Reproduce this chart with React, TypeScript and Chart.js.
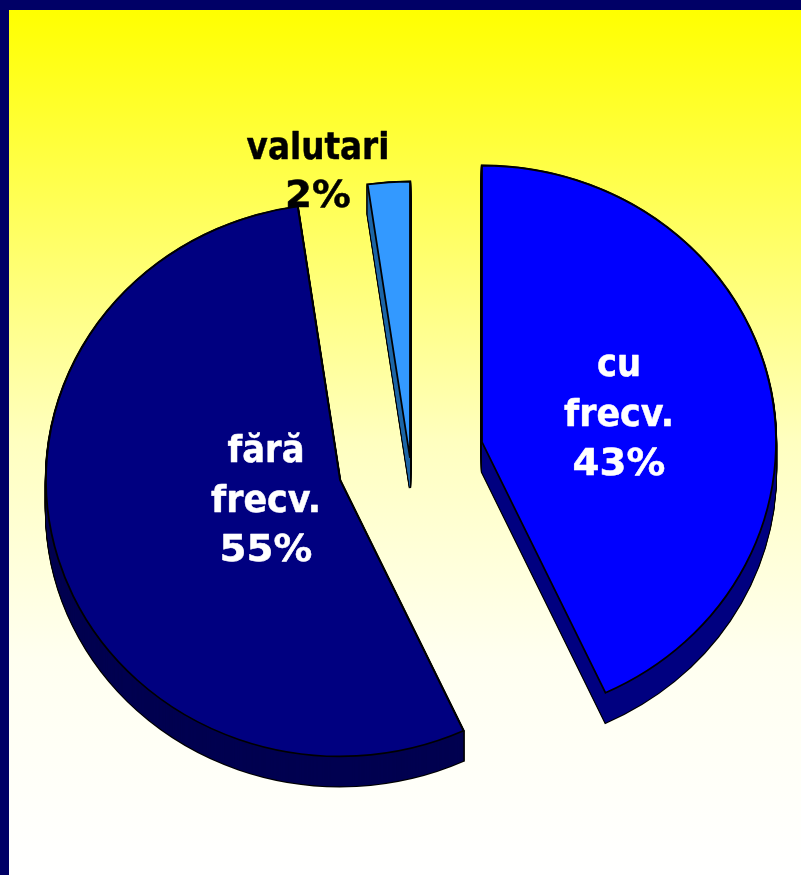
import React, { useEffect, useRef } from "react";
import { Chart, registerables } from "chart.js";

Chart.register(...registerables);

const categories = ["cu frecv.", "fără frecv.", "valutari"];
const values = [43.1, 54.6, 2.3];
const faceColors = ["#0000ff", "#000080", "#3399ff"];
const wallColors = ["#000080", "#000050", "#1f66a6"];
const textColors = ["#ffffff", "#ffffff", "#000000"];

const explodeX = [71, -71, -1];
const explodeY = [-17, 21, -1];
const labelX = [619, 266, 318];
const labelFirstBaseline = [376, 462, 159];
const labelLineGap = [49.5, 49.5, 48];

const ELLIPSE = 0.94;
const DEPTH = 30;

const lineStretch = (line: string) => {
  if (line.endsWith("%")) return 1.02;
  if (line === "frecv.") return 0.92;
  if (line === "valutari") return 0.86;
  return 0.89;
};

const pie3d = {
  id: "pie3d",
  beforeDraw(chart: any) {
    const { ctx, width, height } = chart;
    ctx.save();
    ctx.fillStyle = "#000066";
    ctx.fillRect(0, 0, width, height);
    const g = ctx.createLinearGradient(0, 10, 0, height);
    g.addColorStop(0, "#ffff00");
    g.addColorStop(0.25, "#ffff60");
    g.addColorStop(0.5, "#ffffc0");
    g.addColorStop(0.75, "#fffff0");
    g.addColorStop(1, "#ffffff");
    ctx.fillStyle = g;
    ctx.fillRect(9, 10, width - 9, height - 10);
    ctx.restore();
  },
  beforeDatasetDraw(chart: any, args: any) {
    const { ctx } = chart;
    const arcs = chart.getDatasetMeta(args.index).data;
    arcs.forEach((el: any, i: number) => {
      const sector = (shift: number) => {
        ctx.beginPath();
        ctx.moveTo(el.x, el.y + shift);
        ctx.arc(el.x, el.y + shift, el.outerRadius, el.startAngle, el.endAngle);
        ctx.closePath();
      };
      ctx.save();
      ctx.translate(explodeX[i], explodeY[i]);
      ctx.translate(el.x, el.y);
      ctx.scale(1, ELLIPSE);
      ctx.translate(-el.x, -el.y);
      ctx.strokeStyle = "#000000";
      ctx.lineWidth = 2.4;
      ctx.lineJoin = "miter";
      for (let d = DEPTH; d >= 0; d -= 1) {
        sector(d / ELLIPSE);
        ctx.stroke();
      }
      ctx.fillStyle = wallColors[i];
      for (let d = DEPTH; d >= 0; d -= 1) {
        sector(d / ELLIPSE);
        ctx.fill();
      }
      el.draw(ctx);
      ctx.restore();
    });
    return false;
  },
  afterDatasetsDraw(chart: any) {
    const { ctx } = chart;
    ctx.save();
    ctx.font = 'bold 38px "DejaVu Sans"';
    ctx.textAlign = "center";
    ctx.textBaseline = "alphabetic";
    ctx.lineJoin = "round";
    categories.forEach((cat, i) => {
      const lines = [...cat.split(" "), `${Math.round(values[i])}%`];
      ctx.fillStyle = textColors[i];
      ctx.strokeStyle = textColors[i];
      ctx.lineWidth = 0.5;
      lines.forEach((line, k) => {
        ctx.save();
        ctx.translate(labelX[i], labelFirstBaseline[i] + k * labelLineGap[i]);
        ctx.scale(lineStretch(line), 1);
        ctx.fillText(line, 0, 0);
        ctx.strokeText(line, 0, 0);
        ctx.restore();
      });
    });
    ctx.restore();
  },
};

export default function App() {
  const ref = useRef<HTMLCanvasElement>(null);
  useEffect(() => {
    const chart = new Chart(ref.current as HTMLCanvasElement, {
      type: "pie",
      data: {
        labels: categories,
        datasets: [
          {
            data: values,
            backgroundColor: faceColors,
            borderColor: "#000000",
            borderWidth: 1.8,
            borderJoinStyle: "miter",
            clip: false,
          } as any,
        ],
      },
      options: {
        responsive: false,
        animation: false,
        radius: 294,
        layout: { padding: { left: 21, top: 43 } },
        plugins: { legend: { display: false }, tooltip: { enabled: false } },
      } as any,
      plugins: [pie3d],
    });
    return () => chart.destroy();
  }, []);
  return (
    <div style={{ position: "fixed", left: 0, top: 0, width: 801, height: 875 }}>
      <canvas ref={ref} width={801} height={875} style={{ display: "block" }} />
    </div>
  );
}
